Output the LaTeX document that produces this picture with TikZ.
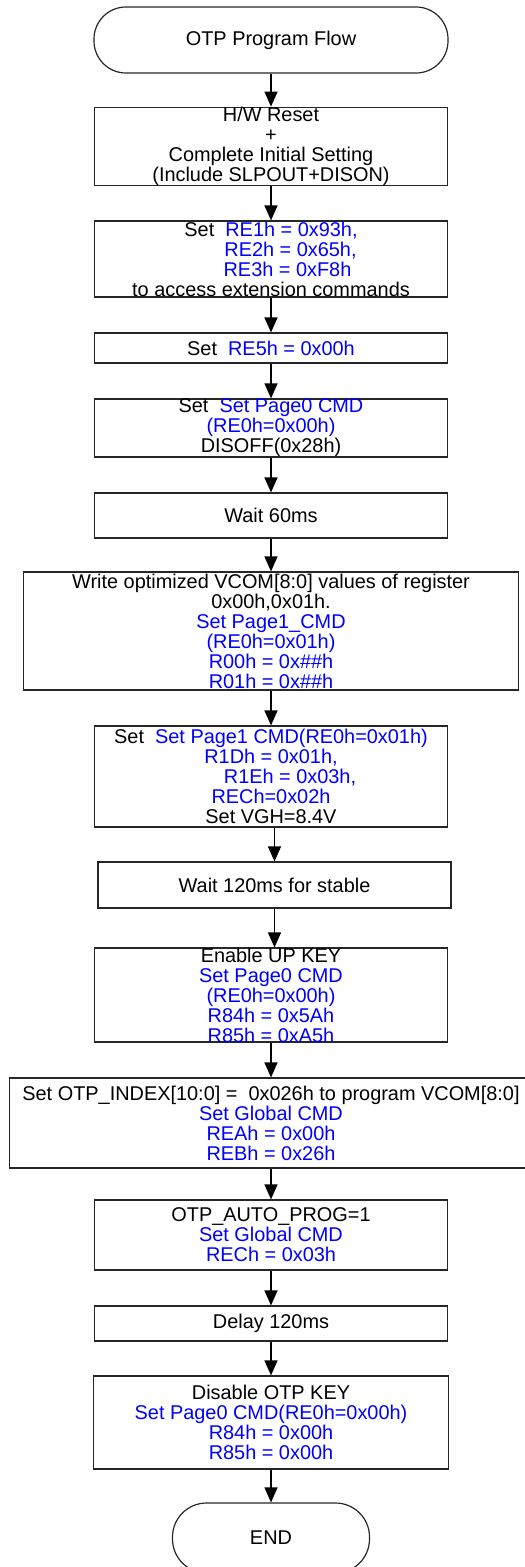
\documentclass[tikz,border=0pt]{standalone}
\usepackage{fontspec}
\setmainfont{Liberation Sans}
\usetikzlibrary{arrows.meta, positioning}

\definecolor{cmdblue}{RGB}{0,0,255}
\newcommand{\cmd}[1]{\textcolor{cmdblue}{#1}}

\begin{document}
\begin{tikzpicture}[
    x=1pt, y=-1pt,
    procbox/.style={draw=black!85, line width=1.2pt, minimum width=353pt, inner sep=0pt, align=center, font=\fontsize{19.9}{20}\selectfont},
    terminal/.style={draw=black!85, line width=1.2pt, rounded corners=32pt, inner sep=0pt, align=center, font=\fontsize{19.9}{20}\selectfont},
    flow/.style={line width=1.2pt, -{Triangle[length=15pt, width=13pt]}}
]
\useasboundingbox (0,0) rectangle (525,1567);

% Start terminal
\node[terminal, minimum width=354pt, minimum height=66pt] (start) at (271,40) {OTP Program Flow};

% Reset and unlock
\node[procbox, minimum height=77pt] (reset) at (271,146.5) {H/W Reset\\+\\Complete Initial Setting\\(Include SLPOUT+DISON)};
\node[procbox, minimum height=76pt] (unlock) at (271,259) {Set\ \ \cmd{RE1h = 0x93h,}\\\hspace*{39pt}\cmd{RE2h = 0x65h,}\\\hspace*{33pt}\cmd{RE3h = 0xF8h}\\to access extension commands};
\node[procbox, minimum height=30pt] (re5) at (271,348) {Set\ \ \cmd{RE5h = 0x00h}};
\node[procbox, minimum height=58pt] (page0) at (271,428) {Set\ \ \cmd{Set Page0 CMD}\\\cmd{(RE0h=0x00h)}\\DISOFF(0x28h)};
\node[procbox, minimum height=45pt] (wait60) at (271,515.5) {Wait 60ms};

% VCOM and VGH
\node[procbox, minimum width=495pt, minimum height=118pt] (vcom) at (271,631) {Write optimized VCOM[8:0] values of register\\0x00h,0x01h.\\\cmd{Set Page1\_CMD}\\\cmd{(RE0h=0x01h)}\\\cmd{R00h = 0x\#\#h}\\\cmd{R01h = 0x\#\#h}};
\node[procbox, minimum height=101pt] (vgh) at (271,776.5) {Set\ \ \cmd{Set Page1 CMD(RE0h=0x01h)}\\\cmd{R1Dh = 0x01h,}\\\hspace*{38pt}\cmd{R1Eh = 0x03h,}\\\cmd{RECh=0x02h}\\Set VGH=8.4V};
\node[procbox, minimum height=46pt] (wait120) at (274.5,885) {Wait 120ms for stable};

% OTP programming
\node[procbox, minimum height=94pt, inner ysep=-5pt] (upkey) at (271,995) {Enable UP KEY\\\cmd{Set Page0 CMD}\\\cmd{(RE0h=0x00h)}\\\cmd{R84h = 0x5Ah}\\\cmd{R85h = 0xA5h}};
\node[procbox, minimum width=523pt, minimum height=90pt] (index) at (271,1123) {Set OTP\_INDEX[10:0] =\ \ 0x026h to program VCOM[8:0]\\\cmd{Set Global CMD}\\\cmd{REAh = 0x00h}\\\cmd{REBh = 0x26h}};
\node[procbox, minimum height=70pt] (autoprog) at (271,1235) {OTP\_AUTO\_PROG=1\\\cmd{Set Global CMD}\\\cmd{RECh = 0x03h}};
\node[procbox, minimum height=35pt] (delay) at (271,1323.5) {Delay 120ms};
\node[procbox, minimum width=355pt, minimum height=93pt] (lockkey) at (271,1422.5) {Disable OTP KEY\\\cmd{Set Page0 CMD(RE0h=0x00h)}\\\cmd{R84h = 0x00h}\\\cmd{R85h = 0x00h}};

% End terminal
\node[terminal, minimum width=197pt, minimum height=70pt, rounded corners=34pt] (stop) at (271,1538) {END};

% Connectors
\foreach \from/\to in {start/reset, reset/unlock, unlock/re5, re5/page0, page0/wait60, wait60/vcom, vcom/vgh, upkey/index, index/autoprog, autoprog/delay, delay/lockkey, lockkey/stop} {
    \draw[flow] (\from) -- (\to);
}
\draw[flow] (vgh.south -| wait120) -- (wait120);
\draw[flow] (wait120) -- (wait120.south |- upkey.north);

\end{tikzpicture}
\end{document}
